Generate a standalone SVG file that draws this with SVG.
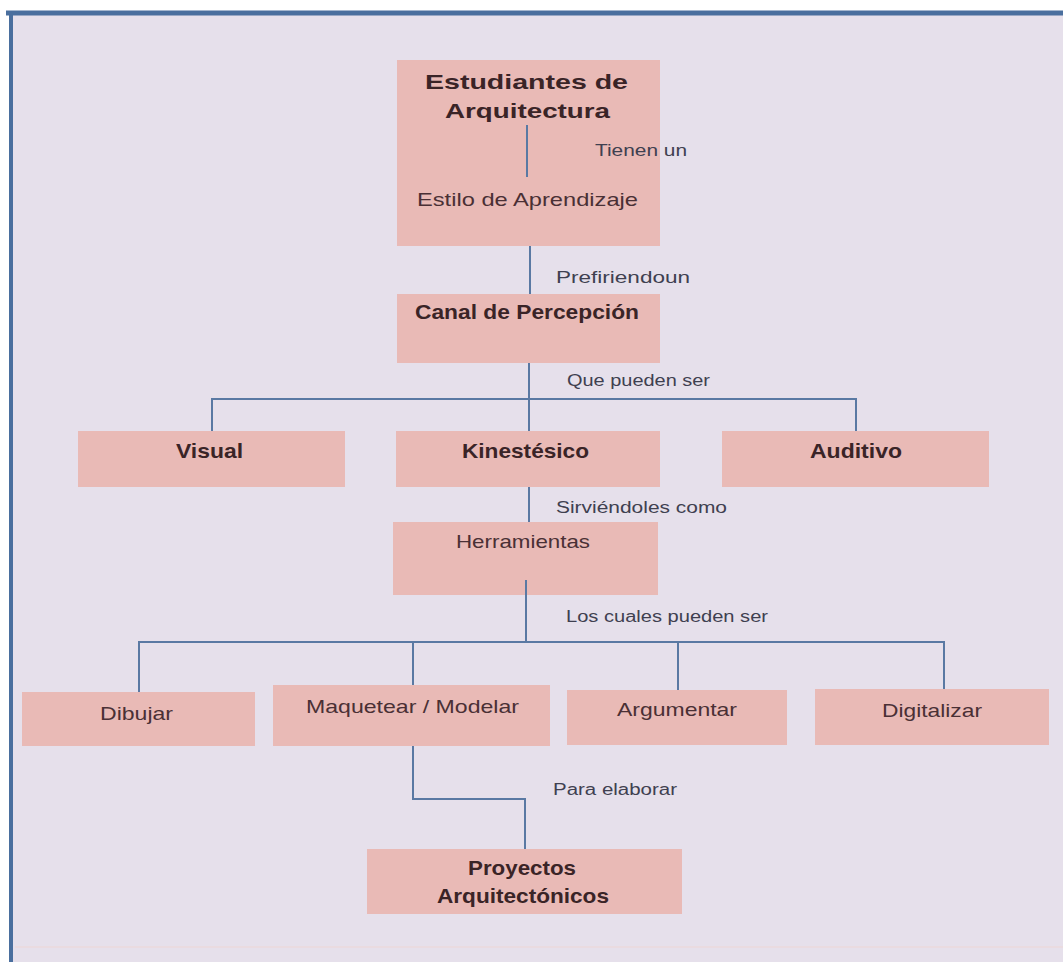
<svg xmlns="http://www.w3.org/2000/svg" width="1063" height="962" viewBox="0 0 1063 962">
<style>
.box{fill:#e9bab6}
.b{font-family:"Liberation Sans",Arial,sans-serif;font-weight:bold;font-size:21px;fill:#3a2427}
.r{font-family:"Liberation Sans",Arial,sans-serif;font-size:19px;fill:#4a3035}
.lab{font-family:"Liberation Sans",Arial,sans-serif;font-size:16px;fill:#3f4050}
.ln{fill:none;stroke:#5a79a3;stroke-width:2}
</style>
<rect x="0" y="0" width="1063" height="962" fill="#ffffff"/>
<rect x="11" y="13" width="1052" height="949" fill="#e6e0eb"/>
<line x1="15" y1="947" x2="1063" y2="947" stroke="#eadbe0" stroke-width="2"/>
<line x1="6" y1="13" x2="1063" y2="13" stroke="#4a6f9e" stroke-width="5"/>
<line x1="11" y1="11" x2="11" y2="962" stroke="#4a6f9e" stroke-width="4"/>

<g id="estudiantes">
<rect class="box" x="397" y="60" width="263" height="186"/>
<text class="b" x="425" y="89" textLength="203" lengthAdjust="spacingAndGlyphs">Estudiantes de</text>
<text class="b" x="445" y="118" textLength="165" lengthAdjust="spacingAndGlyphs">Arquitectura</text>
<text class="r" x="417" y="206" textLength="221" lengthAdjust="spacingAndGlyphs">Estilo de Aprendizaje</text>
</g>

<g id="canal">
<rect class="box" x="397" y="294" width="263" height="69"/>
<text class="b" x="415" y="319" textLength="224" lengthAdjust="spacingAndGlyphs">Canal de Percepción</text>
</g>

<g id="visual">
<rect class="box" x="78" y="431" width="267" height="56"/>
<text class="b" x="176" y="458" textLength="67" lengthAdjust="spacingAndGlyphs">Visual</text>
</g>
<g id="kinestesico">
<rect class="box" x="396" y="431" width="264" height="56"/>
<text class="b" x="462" y="458" textLength="127" lengthAdjust="spacingAndGlyphs">Kinestésico</text>
</g>
<g id="auditivo">
<rect class="box" x="722" y="431" width="267" height="56"/>
<text class="b" x="810" y="458" textLength="92" lengthAdjust="spacingAndGlyphs">Auditivo</text>
</g>

<g id="herramientas">
<rect class="box" x="393" y="522" width="265" height="73"/>
<text class="r" x="456" y="548" textLength="134" lengthAdjust="spacingAndGlyphs">Herramientas</text>
</g>

<g id="dibujar">
<rect class="box" x="22" y="692" width="233" height="54"/>
<text class="r" x="100" y="720" textLength="73" lengthAdjust="spacingAndGlyphs">Dibujar</text>
</g>
<g id="maquetear">
<rect class="box" x="273" y="685" width="277" height="61"/>
<text class="r" x="306" y="713" textLength="213" lengthAdjust="spacingAndGlyphs">Maquetear / Modelar</text>
</g>
<g id="argumentar">
<rect class="box" x="567" y="690" width="220" height="55"/>
<text class="r" x="617" y="716" textLength="120" lengthAdjust="spacingAndGlyphs">Argumentar</text>
</g>
<g id="digitalizar">
<rect class="box" x="815" y="689" width="234" height="56"/>
<text class="r" x="882" y="717" textLength="100" lengthAdjust="spacingAndGlyphs">Digitalizar</text>
</g>

<g id="proyectos">
<rect class="box" x="367" y="849" width="315" height="65"/>
<text class="b" x="468" y="875" textLength="108" lengthAdjust="spacingAndGlyphs">Proyectos</text>
<text class="b" x="437" y="903" textLength="172" lengthAdjust="spacingAndGlyphs">Arquitectónicos</text>
</g>

<g id="connectors">
<line class="ln" x1="527" y1="125" x2="527" y2="177"/>
<line class="ln" x1="530" y1="246" x2="530" y2="294"/>
<line class="ln" x1="529" y1="363" x2="529" y2="431"/>
<polyline class="ln" points="212,431 212,399 856,399 856,431"/>
<line class="ln" x1="529" y1="487" x2="529" y2="522"/>
<line class="ln" x1="526" y1="580" x2="526" y2="642"/>
<polyline class="ln" points="139,692 139,642 944,642 944,689"/>
<line class="ln" x1="413" y1="642" x2="413" y2="685"/>
<line class="ln" x1="678" y1="642" x2="678" y2="690"/>
<polyline class="ln" points="413,746 413,799 525,799 525,849"/>
<text class="lab" x="595" y="156" textLength="92" lengthAdjust="spacingAndGlyphs">Tienen un</text>
<text class="lab" x="556" y="283" textLength="134" lengthAdjust="spacingAndGlyphs">Prefiriendoun</text>
<text class="lab" x="567" y="386" textLength="143" lengthAdjust="spacingAndGlyphs">Que pueden ser</text>
<text class="lab" x="556" y="513" textLength="171" lengthAdjust="spacingAndGlyphs">Sirviéndoles como</text>
<text class="lab" x="566" y="622" textLength="202" lengthAdjust="spacingAndGlyphs">Los cuales pueden ser</text>
<text class="lab" x="553" y="795" textLength="124" lengthAdjust="spacingAndGlyphs">Para elaborar</text>
</g>
</svg>
